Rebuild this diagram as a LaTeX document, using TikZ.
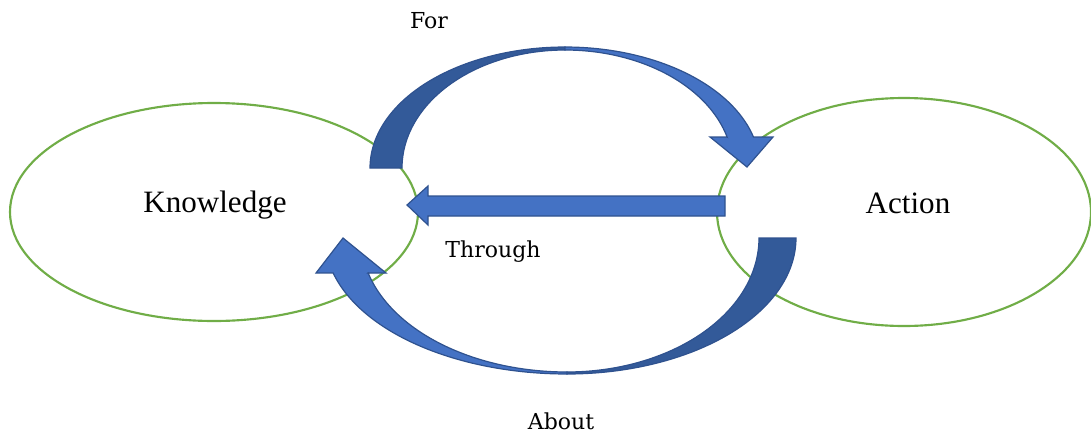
\documentclass[tikz,border=0pt]{standalone}
\usepackage{fontspec}
\setmainfont{Liberation Serif}
\newfontfamily\labelfont{DejaVu Serif}
\usetikzlibrary{shapes.geometric}
\definecolor{ellgreen}{HTML}{70AD47}
\definecolor{blocklight}{HTML}{4472C4}
\definecolor{blockdark}{HTML}{335A99}
\definecolor{blockline}{HTML}{2F528F}
\tikzset{
  circle node/.style={ellipse, draw=ellgreen, line width=1.6pt, fill=none, inner sep=0pt},
  maintext/.style={font=\fontsize{23.3pt}{27pt}\selectfont, anchor=base, inner sep=0pt},
  smalltext/.style={font=\labelfont\fontsize{16.5pt}{20pt}\selectfont, anchor=base, inner sep=0pt},
  lightpart/.style={fill=blocklight, draw=blockline, line width=0.9pt, line join=miter},
  darkpart/.style={fill=blockdark, draw=blockline, line width=0.9pt, line join=miter},
}
\begin{document}
\begin{tikzpicture}[x=0.75pt, y=-0.75pt]
\useasboundingbox (0,0) rectangle (1091,436);
% ellipses
\node[circle node, minimum width=306pt, minimum height=163.5pt] (know) at (214,212) {};
\node[circle node, minimum width=280.5pt, minimum height=171pt] (act) at (904,212) {};
\node[maintext] (knowt) at (215,212) {Knowledge};
\node[maintext] (actt) at (908,213) {Action};
% top curved arrow (For)
\filldraw[darkpart] (370,168) -- plot[domain=180:270, samples=50, variable=\t] ({565+195*cos(\t)},{168+121*sin(\t)})
  -- plot[domain=270:180, samples=50, variable=\t] ({565+163*cos(\t)},{168+118*sin(\t)}) -- cycle;
\filldraw[lightpart] (565,47) -- plot[domain=270:345.2, samples=50, variable=\t] ({565+195*cos(\t)},{168+121*sin(\t)})
  -- (773,137) -- (747,167) -- (710,137) -- (727,137)
  -- plot[domain=344.8:270, samples=50, variable=\t] ({565+168*cos(\t)},{168+118*sin(\t)}) -- cycle;
% bottom curved arrow (About)
\filldraw[darkpart] (796,238) -- plot[domain=0:90, samples=50, variable=\t] ({567+229*cos(\t)},{238+136*sin(\t)})
  -- plot[domain=90:0, samples=50, variable=\t] ({567+192*cos(\t)},{238+134*sin(\t)}) -- cycle;
\filldraw[lightpart] (567,374) -- plot[domain=90:165.1, samples=50, variable=\t] ({567+242*cos(\t)},{238+136*sin(\t)})
  -- (316,273) -- (343,238) -- (386,273) -- (368,273)
  -- plot[domain=164.9:90, samples=50, variable=\t] ({567+206*cos(\t)},{238+134*sin(\t)}) -- cycle;
% straight arrow (Through)
\filldraw[lightpart] (725,196) -- (428,196) -- (428,186) -- (407,205) -- (428,225) -- (428,216) -- (725,216) -- cycle;
% labels
\node[smalltext] (for) at (429,28) {For};
\node[smalltext] (through) at (493,257) {Through};
\node[smalltext] (about) at (561,429) {About};
\end{tikzpicture}
\end{document}
